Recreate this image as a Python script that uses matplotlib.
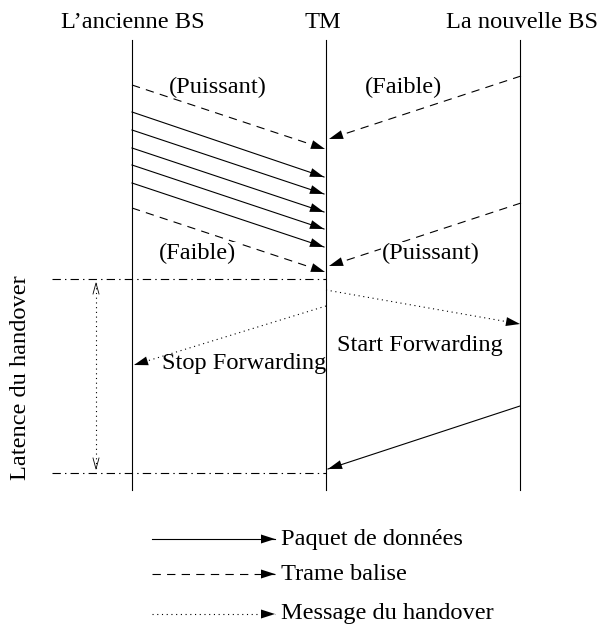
import matplotlib
matplotlib.use("Agg")
import matplotlib.pyplot as plt
import numpy as np

plt.rcParams['font.family'] = ['Liberation Serif', 'DejaVu Serif']
plt.rcParams['lines.scale_dashes'] = False

W, H = 601, 635

# Lifelines
entities = ["L\u2019ancienne BS", "TM", "La nouvelle BS"]
entity_x = [132, 326, 520]
header_x = [133, 323, 522]
lifeline_top, lifeline_bottom = 40, 490

# Data packets (old BS -> TM)
data_x0 = [132, 132, 132, 132, 132]
data_y0 = [112, 130, 148, 165, 183]
data_x1 = [324, 324, 324, 324, 324]
data_y1 = [177, 194, 212, 229, 247]

# Beacon frames
beacon_x0 = [132, 132, 521, 521]
beacon_y0 = [85, 208, 76, 203]
beacon_x1 = [325, 325, 329, 329]
beacon_y1 = [149, 272, 139, 266]
beacon_labels = ["(Puissant)", "(Faible)", "(Faible)", "(Puissant)"]
beacon_label_x = [218, 198, 404, 431]
beacon_label_y = [87, 253, 87, 253]

# Handover messages (dotted)
msg_x0 = [326, 326]
msg_y0 = [290, 306]
msg_x1 = [520, 134]
msg_y1 = [324, 365]
msg_labels = ["Start Forwarding", "Stop Forwarding"]
msg_label_x = [420, 244]
msg_label_y = [346, 364]

# Data packet new BS -> TM
late_x0, late_y0, late_x1, late_y1 = 520, 406, 328, 469

# Handover latency markers
lat_top, lat_bottom = 279, 473
lat_left = 52
lat_arrow_x = 96

legend_labels = ["Paquet de donn\u00e9es", "Trame balise", "Message du handover"]
legend_y = [539, 574, 614]

fig = plt.figure(figsize=(W / 100, H / 100), dpi=100)
ax = fig.add_axes([0, 0, 1, 1])
ax.set_xlim(0, W)
ax.set_ylim(H, 0)
ax.axis('off')

FS = 17.6
LW = 0.8
DASH = (0, (6, 4.5))
DOT = (0, (0.8, 2.6))
DASHDOT = (0, (6, 3, 1, 3))


def arrow(x0, y0, x1, y1, ls, hl=14, hw=4.5):
    ax.plot([x0, x1], [y0, y1], color='k', lw=LW, linestyle=ls)
    d = np.array([x1 - x0, y1 - y0], dtype=float)
    d /= np.hypot(*d)
    px, py = x1 - d[0] * hl, y1 - d[1] * hl
    nx, ny = -d[1], d[0]
    ax.fill([x1, px + nx * hw, px - nx * hw], [y1, py + ny * hw, py - ny * hw],
            color='k', lw=0)


def open_head(x, y, direction, hl=11, hw=3):
    # open V arrowhead pointing along direction (+1 down, -1 up)
    by = y - direction * hl
    ax.plot([x - hw, x, x + hw], [by, y, by], color='k', lw=0.6)


# lifelines
for x in entity_x:
    ax.plot([x, x], [lifeline_top, lifeline_bottom], color='k', lw=LW)
for name, x in zip(entities, header_x):
    ax.text(x, 22, name, ha='center', va='center', fontsize=FS)

for x0, y0, x1, y1 in zip(data_x0, data_y0, data_x1, data_y1):
    arrow(x0, y0, x1, y1, '-')
for x0, y0, x1, y1 in zip(beacon_x0, beacon_y0, beacon_x1, beacon_y1):
    arrow(x0, y0, x1, y1, DASH)
for t, x, y in zip(beacon_labels, beacon_label_x, beacon_label_y):
    ax.text(x, y, t, ha='center', va='center', fontsize=FS,
            bbox=dict(fc='white', ec='none', pad=0.5))
for x0, y0, x1, y1 in zip(msg_x0, msg_y0, msg_x1, msg_y1):
    arrow(x0, y0, x1, y1, DOT)
for t, x, y in zip(msg_labels, msg_label_x, msg_label_y):
    ax.text(x, y, t, ha='center', va='center', fontsize=FS)
arrow(late_x0, late_y0, late_x1, late_y1, '-')

# latency
for y in (lat_top, lat_bottom):
    ax.plot([lat_left, entity_x[1]], [y, y], color='k', lw=LW, linestyle=DASHDOT)
ax.plot([lat_arrow_x, lat_arrow_x], [lat_top + 4, lat_bottom - 4],
        color='k', lw=LW, linestyle=DOT)
open_head(lat_arrow_x, lat_top + 4, -1)
open_head(lat_arrow_x, lat_bottom - 4, 1)
ax.text(21, 378, "Latence du handover", rotation=90,
        ha='center', va='center', fontsize=FS)

# legend
for lab, y, ls in zip(legend_labels, legend_y, ['-', DASH, DOT]):
    arrow(152, y, 275, y, ls)
    ax.text(281, y, lab, ha='left', va='center', fontsize=FS)

fig.savefig('out.png', dpi=100)
